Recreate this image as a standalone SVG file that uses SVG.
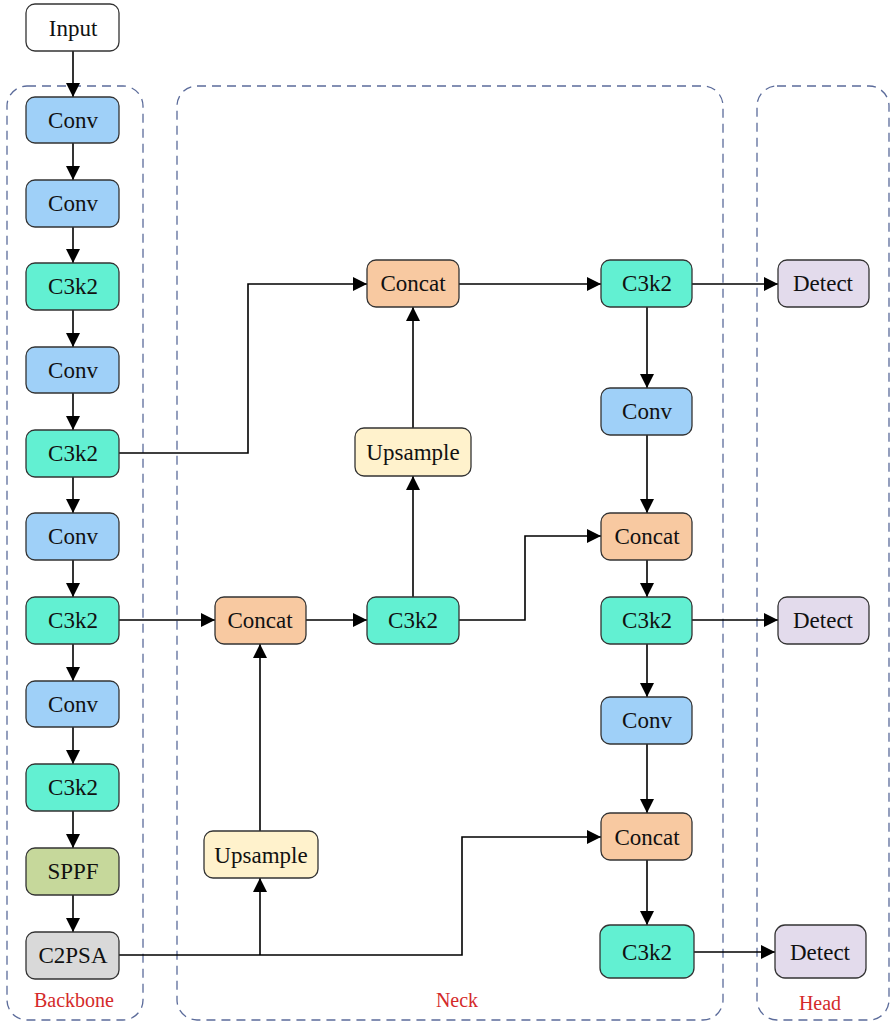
<svg xmlns="http://www.w3.org/2000/svg" width="892" height="1024" viewBox="0 0 892 1024">
<defs>
<marker id="ah" viewBox="0 0 10 10" refX="10" refY="5" markerWidth="14" markerHeight="14" markerUnits="userSpaceOnUse" orient="auto">
<path d="M0,0 L10,5 L0,10 z" fill="#000"/>
</marker>
<style>
.n{stroke:#333;stroke-width:1.3}
.t{font-family:"Liberation Serif","Times New Roman",serif;font-size:23px;fill:#111;text-anchor:middle;dominant-baseline:central}
.lab{font-family:"Liberation Serif","Times New Roman",serif;font-size:20px;fill:#d42a2a;text-anchor:middle}
.grp{fill:none;stroke:#5b6b9a;stroke-width:1.3;stroke-dasharray:9 6}
.c{fill:none;stroke:#000;stroke-width:1.6}
.conv{fill:#9fd0f8}
.c3{fill:#62f0d2}
.cat{fill:#f8c9a1}
.up{fill:#fff2cc}
.sppf{fill:#c6d89b}
.psa{fill:#d9d9d9}
.det{fill:#e3dbec}
.inp{fill:#fff}
</style>
</defs>
<rect width="892" height="1024" fill="#fff"/>
<g id="groups">
<rect class="grp" x="7" y="86" width="136" height="934" rx="20"/>
<rect class="grp" x="177" y="86" width="546" height="934" rx="20"/>
<rect class="grp" x="757" y="86" width="132" height="934" rx="20"/>
<text class="lab" x="74" y="1007">Backbone</text>
<text class="lab" x="457" y="1007">Neck</text>
<text class="lab" x="820" y="1010">Head</text>
</g>
<g id="connectors">
<path class="c" d="M73,51 V97" marker-end="url(#ah)"/>
<path class="c" d="M73,143 V180" marker-end="url(#ah)"/>
<path class="c" d="M73,227 V263" marker-end="url(#ah)"/>
<path class="c" d="M73,310 V347" marker-end="url(#ah)"/>
<path class="c" d="M73,393 V430" marker-end="url(#ah)"/>
<path class="c" d="M73,477 V513" marker-end="url(#ah)"/>
<path class="c" d="M73,560 V597" marker-end="url(#ah)"/>
<path class="c" d="M73,644 V681" marker-end="url(#ah)"/>
<path class="c" d="M73,727 V764" marker-end="url(#ah)"/>
<path class="c" d="M73,811 V848" marker-end="url(#ah)"/>
<path class="c" d="M73,895 V932" marker-end="url(#ah)"/>
<path class="c" d="M119,453 H248 V284 H367" marker-end="url(#ah)"/>
<path class="c" d="M119,620 H215" marker-end="url(#ah)"/>
<path class="c" d="M306,620 H367" marker-end="url(#ah)"/>
<path class="c" d="M413,597 V476" marker-end="url(#ah)"/>
<path class="c" d="M413,428 V307" marker-end="url(#ah)"/>
<path class="c" d="M459,620 H525 V536 H601" marker-end="url(#ah)"/>
<path class="c" d="M119,955 H462 V837 H601" marker-end="url(#ah)"/>
<path class="c" d="M260,955 V878" marker-end="url(#ah)"/>
<path class="c" d="M260,831 V644" marker-end="url(#ah)"/>
<path class="c" d="M459,284 H601" marker-end="url(#ah)"/>
<path class="c" d="M647,307 V388" marker-end="url(#ah)"/>
<path class="c" d="M647,435 V513" marker-end="url(#ah)"/>
<path class="c" d="M647,560 V597" marker-end="url(#ah)"/>
<path class="c" d="M647,644 V697" marker-end="url(#ah)"/>
<path class="c" d="M647,744 V813" marker-end="url(#ah)"/>
<path class="c" d="M647,860 V925" marker-end="url(#ah)"/>
<path class="c" d="M692,284 H778" marker-end="url(#ah)"/>
<path class="c" d="M692,620 H778" marker-end="url(#ah)"/>
<path class="c" d="M694,952 H775" marker-end="url(#ah)"/>
</g>
<g id="input"><rect class="n inp" x="26" y="4" width="93" height="47" rx="9"/><text class="t" x="73" y="28">Input</text></g>
<g id="b_conv1"><rect class="n conv" x="26" y="97" width="93" height="46" rx="9"/><text class="t" x="73" y="120">Conv</text></g>
<g id="b_conv2"><rect class="n conv" x="26" y="180" width="93" height="47" rx="9"/><text class="t" x="73" y="203">Conv</text></g>
<g id="b_c3k2_1"><rect class="n c3" x="26" y="263" width="93" height="47" rx="9"/><text class="t" x="73" y="286">C3k2</text></g>
<g id="b_conv3"><rect class="n conv" x="26" y="347" width="93" height="46" rx="9"/><text class="t" x="73" y="370">Conv</text></g>
<g id="b_c3k2_2"><rect class="n c3" x="26" y="430" width="93" height="47" rx="9"/><text class="t" x="73" y="453">C3k2</text></g>
<g id="b_conv4"><rect class="n conv" x="26" y="513" width="93" height="47" rx="9"/><text class="t" x="73" y="536">Conv</text></g>
<g id="b_c3k2_3"><rect class="n c3" x="26" y="597" width="93" height="47" rx="9"/><text class="t" x="73" y="620">C3k2</text></g>
<g id="b_conv5"><rect class="n conv" x="26" y="681" width="93" height="46" rx="9"/><text class="t" x="73" y="704">Conv</text></g>
<g id="b_c3k2_4"><rect class="n c3" x="26" y="764" width="93" height="47" rx="9"/><text class="t" x="73" y="787">C3k2</text></g>
<g id="b_sppf"><rect class="n sppf" x="26" y="848" width="93" height="47" rx="9"/><text class="t" x="73" y="871">SPPF</text></g>
<g id="b_c2psa"><rect class="n psa" x="26" y="932" width="93" height="47" rx="9"/><text class="t" x="73" y="955">C2PSA</text></g>
<g id="n_concat1"><rect class="n cat" x="367" y="260" width="92" height="47" rx="9"/><text class="t" x="413" y="283">Concat</text></g>
<g id="n_up1"><rect class="n up" x="355" y="428" width="116" height="48" rx="9"/><text class="t" x="413" y="452">Upsample</text></g>
<g id="n_concat2"><rect class="n cat" x="215" y="597" width="91" height="47" rx="9"/><text class="t" x="260" y="620">Concat</text></g>
<g id="n_c3k2_1"><rect class="n c3" x="367" y="597" width="92" height="47" rx="9"/><text class="t" x="413" y="620">C3k2</text></g>
<g id="n_up2"><rect class="n up" x="204" y="831" width="114" height="47" rx="9"/><text class="t" x="261" y="855">Upsample</text></g>
<g id="n_c3k2_2"><rect class="n c3" x="601" y="260" width="91" height="47" rx="9"/><text class="t" x="647" y="283">C3k2</text></g>
<g id="n_conv1"><rect class="n conv" x="601" y="388" width="91" height="47" rx="9"/><text class="t" x="647" y="411">Conv</text></g>
<g id="n_concat3"><rect class="n cat" x="601" y="513" width="91" height="47" rx="9"/><text class="t" x="647" y="536">Concat</text></g>
<g id="n_c3k2_3"><rect class="n c3" x="601" y="597" width="91" height="47" rx="9"/><text class="t" x="647" y="620">C3k2</text></g>
<g id="n_conv2"><rect class="n conv" x="601" y="697" width="91" height="47" rx="9"/><text class="t" x="647" y="720">Conv</text></g>
<g id="n_concat4"><rect class="n cat" x="601" y="813" width="91" height="47" rx="9"/><text class="t" x="647" y="837">Concat</text></g>
<g id="n_c3k2_4"><rect class="n c3" x="600" y="925" width="94" height="53" rx="10"/><text class="t" x="647" y="952">C3k2</text></g>
<g id="h_det1"><rect class="n det" x="778" y="260" width="91" height="47" rx="9"/><text class="t" x="823" y="283">Detect</text></g>
<g id="h_det2"><rect class="n det" x="778" y="597" width="91" height="47" rx="9"/><text class="t" x="823" y="620">Detect</text></g>
<g id="h_det3"><rect class="n det" x="775" y="925" width="91" height="53" rx="10"/><text class="t" x="820" y="952">Detect</text></g>
</svg>
